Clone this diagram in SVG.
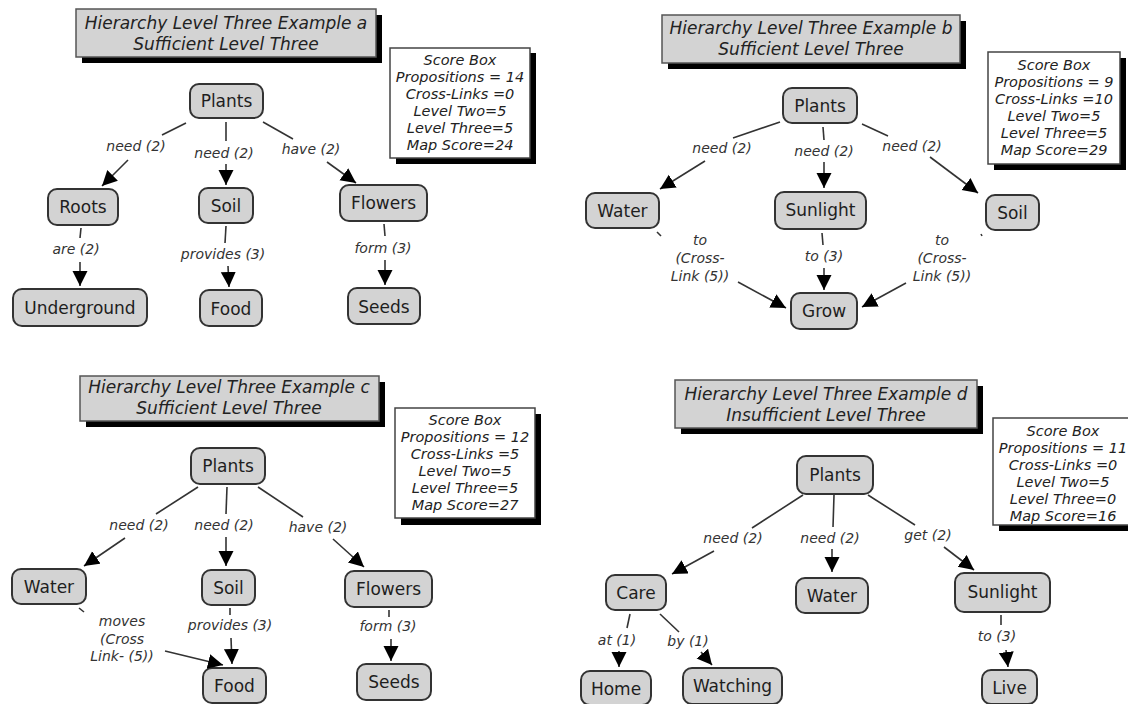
<svg xmlns="http://www.w3.org/2000/svg" width="1128" height="704" viewBox="0 0 1128 704">
<defs>
<marker id="ah" markerUnits="userSpaceOnUse" markerWidth="17" markerHeight="17" refX="15" refY="7.5" orient="auto"><path d="M0,0 L15,7.5 L0,15 z" fill="#000"/></marker>
</defs>
<style>
.node rect{fill:#d3d3d3;stroke:#333;stroke-width:2}
.node text{font-family:"DejaVu Sans",Verdana,sans-serif;font-size:17px;fill:#1e1e1e;text-anchor:middle}
.title rect.bg{fill:#d3d3d3;stroke:#555;stroke-width:1.5}
.sh{fill:#000}
.title text{font-family:"DejaVu Sans",Verdana,sans-serif;font-size:17px;font-style:italic;fill:#222;text-anchor:middle}
.score rect.bg{fill:#fff;stroke:#444;stroke-width:1.5}
.score text{font-family:"DejaVu Sans",Verdana,sans-serif;font-size:14.5px;font-style:italic;fill:#222;text-anchor:middle}
.lbl{font-family:"DejaVu Sans",Verdana,sans-serif;font-size:14px;font-style:italic;fill:#333;text-anchor:middle}
.c line{stroke:#333;stroke-width:1.6}
.c line.a{marker-end:url(#ah)}
</style>
<rect width="1128" height="704" fill="#fff"/>

<!-- ===== Quadrant a ===== -->
<g id="title-a" class="title"><rect class="sh" x="82" y="15" width="300" height="48"/><rect class="bg" x="76" y="9" width="300" height="48"/><text x="226" y="29">Hierarchy Level Three Example a</text><text x="226" y="50">Sufficient Level Three</text></g>
<g id="score-a" class="score"><rect class="sh" x="396" y="53" width="140" height="111"/><rect class="bg" x="390" y="48" width="140" height="110"/>
<text x="460" y="65">Score Box</text><text x="460" y="82">Propositions = 14</text><text x="460" y="99">Cross-Links =0</text><text x="460" y="116">Level Two=5</text><text x="460" y="133">Level Three=5</text><text x="460" y="150">Map Score=24</text></g>
<g id="a-plants" class="node"><rect x="190" y="84" width="73" height="34" rx="9"/><text x="226.5" y="107">Plants</text></g>
<g id="a-roots" class="node"><rect x="48" y="189" width="70" height="36" rx="9"/><text x="83" y="213">Roots</text></g>
<g id="a-soil" class="node"><rect x="199" y="188" width="54" height="35" rx="9"/><text x="226" y="212">Soil</text></g>
<g id="a-flowers" class="node"><rect x="340" y="185" width="87" height="36" rx="9"/><text x="383.5" y="209">Flowers</text></g>
<g id="a-underground" class="node"><rect x="13" y="289" width="134" height="37" rx="9"/><text x="80" y="314">Underground</text></g>
<g id="a-food" class="node"><rect x="200" y="290" width="62" height="36" rx="9"/><text x="231" y="315">Food</text></g>
<g id="a-seeds" class="node"><rect x="348" y="288" width="72" height="36" rx="9"/><text x="384" y="313">Seeds</text></g>

<!-- ===== Quadrant b ===== -->
<g id="title-b" class="title"><rect class="sh" x="668" y="21" width="298" height="48"/><rect class="bg" x="662" y="15" width="298" height="48"/><text x="811" y="34">Hierarchy Level Three Example b</text><text x="811" y="55">Sufficient Level Three</text></g>
<g id="score-b" class="score"><rect class="sh" x="994" y="58" width="132" height="112"/><rect class="bg" x="988" y="52" width="132" height="112"/>
<text x="1054" y="70">Score Box</text><text x="1054" y="87">Propositions = 9</text><text x="1054" y="104">Cross-Links =10</text><text x="1054" y="121">Level Two=5</text><text x="1054" y="138">Level Three=5</text><text x="1054" y="155">Map Score=29</text></g>
<g id="b-plants" class="node"><rect x="783" y="88" width="74" height="35" rx="9"/><text x="820" y="112">Plants</text></g>
<g id="b-water" class="node"><rect x="586" y="193" width="73" height="35" rx="9"/><text x="622.5" y="217">Water</text></g>
<g id="b-sunlight" class="node"><rect x="775" y="192" width="91" height="37" rx="9"/><text x="820.5" y="216">Sunlight</text></g>
<g id="b-soil" class="node"><rect x="986" y="195" width="53" height="35" rx="9"/><text x="1012.5" y="219">Soil</text></g>
<g id="b-grow" class="node"><rect x="791" y="293" width="66" height="36" rx="9"/><text x="824" y="317">Grow</text></g>

<!-- ===== Quadrant c ===== -->
<g id="title-c" class="title"><rect class="sh" x="86" y="382" width="299" height="45"/><rect class="bg" x="80" y="376" width="299" height="45"/><text x="229" y="393">Hierarchy Level Three Example c</text><text x="229" y="414">Sufficient Level Three</text></g>
<g id="score-c" class="score"><rect class="sh" x="401" y="414" width="140" height="111"/><rect class="bg" x="395" y="408" width="140" height="110"/>
<text x="465" y="425">Score Box</text><text x="465" y="442">Propositions = 12</text><text x="465" y="459">Cross-Links =5</text><text x="465" y="476">Level Two=5</text><text x="465" y="493">Level Three=5</text><text x="465" y="510">Map Score=27</text></g>
<g id="c-plants" class="node"><rect x="191" y="448" width="74" height="36" rx="9"/><text x="228" y="472">Plants</text></g>
<g id="c-water" class="node"><rect x="12" y="569" width="74" height="35" rx="9"/><text x="49" y="593">Water</text></g>
<g id="c-soil" class="node"><rect x="202" y="570" width="53" height="35" rx="9"/><text x="228.5" y="594">Soil</text></g>
<g id="c-flowers" class="node"><rect x="345" y="571" width="87" height="36" rx="9"/><text x="388.5" y="595">Flowers</text></g>
<g id="c-food" class="node"><rect x="203" y="668" width="63" height="35" rx="9"/><text x="234.5" y="692">Food</text></g>
<g id="c-seeds" class="node"><rect x="357" y="664" width="74" height="36" rx="9"/><text x="394" y="688">Seeds</text></g>

<!-- ===== Quadrant d ===== -->
<g id="title-d" class="title"><rect class="sh" x="681" y="386" width="302" height="48"/><rect class="bg" x="675" y="380" width="302" height="48"/><text x="826" y="400">Hierarchy Level Three Example d</text><text x="826" y="421">Insufficient Level Three</text></g>
<g id="score-d" class="score"><rect class="sh" x="999" y="424" width="140" height="107"/><rect class="bg" x="993" y="418" width="140" height="107"/>
<text x="1063" y="436">Score Box</text><text x="1063" y="453">Propositions = 11</text><text x="1063" y="470">Cross-Links =0</text><text x="1063" y="487">Level Two=5</text><text x="1063" y="504">Level Three=0</text><text x="1063" y="521">Map Score=16</text></g>
<g id="d-plants" class="node"><rect x="797" y="456" width="76" height="38" rx="9"/><text x="835" y="481">Plants</text></g>
<g id="d-care" class="node"><rect x="606" y="575" width="60" height="35" rx="9"/><text x="636" y="599">Care</text></g>
<g id="d-water" class="node"><rect x="796" y="578" width="72" height="35" rx="9"/><text x="832" y="602">Water</text></g>
<g id="d-sunlight" class="node"><rect x="955" y="573" width="95" height="39" rx="9"/><text x="1002.5" y="598">Sunlight</text></g>
<g id="d-home" class="node"><rect x="581" y="671" width="70" height="34" rx="9"/><text x="616" y="695">Home</text></g>
<g id="d-watching" class="node"><rect x="683" y="668" width="99" height="36" rx="9"/><text x="732.5" y="692">Watching</text></g>
<g id="d-live" class="node"><rect x="982" y="670" width="55" height="34" rx="9"/><text x="1009.5" y="694">Live</text></g>

<!-- ===== Connectors ===== -->
<g id="connectors" class="c">
<!-- a -->
<line x1="186" y1="123" x2="162" y2="135"/><line class="a" x1="128" y1="160" x2="102" y2="186"/>
<line x1="226" y1="122" x2="226" y2="141"/><line class="a" x1="226" y1="164" x2="226" y2="185"/>
<line x1="263" y1="122" x2="293" y2="139"/><line class="a" x1="327" y1="162" x2="356" y2="183"/>
<line x1="81" y1="228" x2="80" y2="238"/><line class="a" x1="80" y1="262" x2="80" y2="286"/>
<line x1="226" y1="226" x2="225" y2="243"/><line class="a" x1="228" y1="266" x2="229" y2="287"/>
<line x1="384" y1="224" x2="385" y2="236"/><line class="a" x1="385" y1="260" x2="385" y2="285"/>
<!-- b -->
<line x1="780" y1="122" x2="733" y2="138"/><line class="a" x1="705" y1="161" x2="660" y2="189"/>
<line x1="823" y1="127" x2="824" y2="140"/><line class="a" x1="824" y1="162" x2="824" y2="188"/>
<line x1="862" y1="124" x2="888" y2="136"/><line class="a" x1="930" y1="157" x2="978" y2="193"/>
<line x1="657" y1="232" x2="661" y2="236"/><line class="a" x1="738" y1="282" x2="786" y2="308"/>
<line x1="822" y1="233" x2="823" y2="245"/><line class="a" x1="824" y1="268" x2="824" y2="290"/>
<line x1="981" y1="234" x2="982" y2="236"/><line class="a" x1="906" y1="283" x2="862" y2="307"/>
<!-- c -->
<line x1="198" y1="487" x2="156" y2="514"/><line class="a" x1="125" y1="538" x2="84" y2="566"/>
<line x1="227" y1="487" x2="226" y2="514"/><line class="a" x1="226" y1="537" x2="226" y2="566"/>
<line x1="258" y1="487" x2="303" y2="517"/><line class="a" x1="333" y1="539" x2="364" y2="567"/>
<line x1="79" y1="608" x2="84" y2="612"/><line class="a" x1="165" y1="651" x2="223" y2="665"/>
<line x1="230" y1="608" x2="230" y2="615"/><line class="a" x1="231" y1="638" x2="232" y2="664"/>
<line x1="389" y1="610" x2="389" y2="617"/><line class="a" x1="391" y1="639" x2="391" y2="661"/>
<!-- d -->
<line x1="803" y1="495" x2="752" y2="528"/><line class="a" x1="714" y1="551" x2="672" y2="574"/>
<line x1="834" y1="495" x2="833" y2="527"/><line class="a" x1="832" y1="549" x2="832" y2="572"/>
<line x1="868" y1="495" x2="915" y2="525"/><line class="a" x1="944" y1="547" x2="974" y2="570"/>
<line x1="630" y1="614" x2="627" y2="628"/><line class="a" x1="619" y1="651" x2="619" y2="667"/>
<line x1="660" y1="614" x2="679" y2="632"/><line class="a" x1="701" y1="652" x2="712" y2="665"/>
<line x1="1001" y1="615" x2="1001" y2="625"/><line class="a" x1="1006" y1="650" x2="1008" y2="667"/>
</g>

<!-- ===== Labels ===== -->
<g id="labels">
<text class="lbl" x="136" y="151">need (2)</text>
<text class="lbl" x="224" y="158">need (2)</text>
<text class="lbl" x="311" y="154">have (2)</text>
<text class="lbl" x="76" y="254">are (2)</text>
<text class="lbl" x="223" y="259">provides (3)</text>
<text class="lbl" x="383" y="253">form (3)</text>

<text class="lbl" x="722" y="153">need (2)</text>
<text class="lbl" x="824" y="156">need (2)</text>
<text class="lbl" x="912" y="151">need (2)</text>
<text class="lbl" x="700" y="245">to</text><text class="lbl" x="700" y="263">(Cross-</text><text class="lbl" x="700" y="281">Link (5))</text>
<text class="lbl" x="824" y="261">to (3)</text>
<text class="lbl" x="942" y="245">to</text><text class="lbl" x="942" y="263">(Cross-</text><text class="lbl" x="942" y="281">Link (5))</text>

<text class="lbl" x="139" y="530">need (2)</text>
<text class="lbl" x="224" y="530">need (2)</text>
<text class="lbl" x="318" y="532">have (2)</text>
<text class="lbl" x="122" y="626">moves</text><text class="lbl" x="122" y="644">(Cross</text><text class="lbl" x="122" y="661">Link- (5))</text>
<text class="lbl" x="230" y="630">provides (3)</text>
<text class="lbl" x="388" y="631">form (3)</text>

<text class="lbl" x="733" y="543">need (2)</text>
<text class="lbl" x="830" y="543">need (2)</text>
<text class="lbl" x="928" y="540">get (2)</text>
<text class="lbl" x="617" y="645">at (1)</text>
<text class="lbl" x="688" y="646">by (1)</text>
<text class="lbl" x="997" y="641">to (3)</text>
</g>
</svg>
